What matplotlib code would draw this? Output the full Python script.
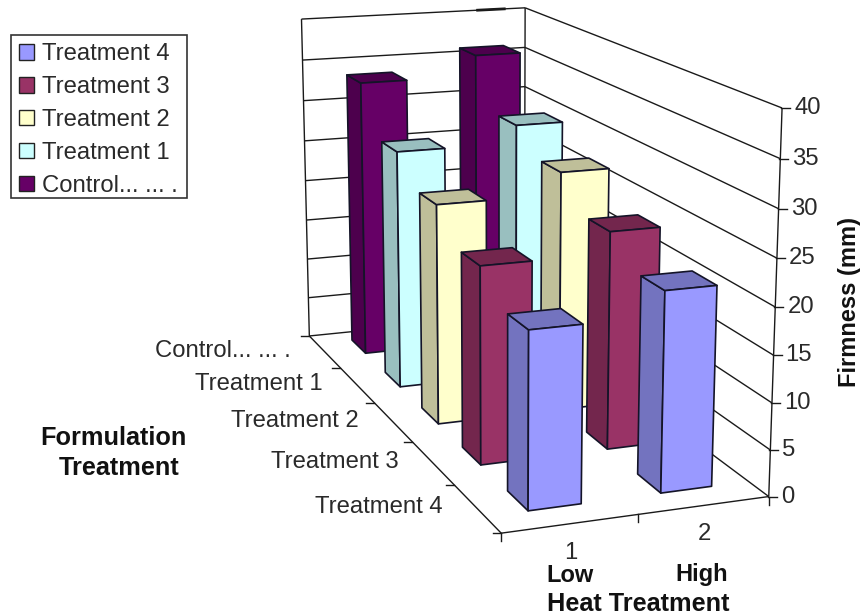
import numpy as np
import matplotlib
matplotlib.use("Agg")
import matplotlib.pyplot as plt
from matplotlib.patches import Patch, Rectangle

plt.rcParams["font.family"] = ["Liberation Sans", "DejaVu Sans"]

# --- Data
treatments = ["Control... ... .", "Treatment 1", "Treatment 2", "Treatment 3", "Treatment 4"]
heat_ticks = ["1", "2"]
firmness_low = [33.5, 28.0, 25.0, 21.7, 18.8]
firmness_high = [36.0, 30.1, 27.5, 24.1, 21.4]
firmness_ticks = [0, 5, 10, 15, 20, 25, 30, 35, 40]

front_colors = ["#660066", "#CCFFFF", "#FFFFCC", "#993366", "#9999FF"]
side_colors = ["#4D004D", "#99BFBF", "#BFBF99", "#73264D", "#7373BF"]

# --- Box corners (heat, depth, firmness) and where they land in the figure
box_corners = [
    (0, 5, 0), (0, 5, 40), (2, 5, 40), (0, 0, 0), (2, 0, 0), (2, 0, 40),
    (1, 0, 0), (0, 4, 0), (0, 3, 0), (0, 2, 0), (0, 1, 0), (2, 0, 20),
    (0, 5, 20),
]
corner_pixels = [
    (309, 336), (301, 20), (526, 8), (501, 533), (768, 497), (782, 107),
    (638, 515), (340, 367), (375, 403), (413, 442), (455, 485), (775, 307),
    (305, 180),
]

BAR_W = 0.395
BAR_D = 0.42
BAR_DX = 0.012
BAR_DY = 0.04
FONT = 17.2
BOLD = 17
BOLD_WIDE = 18.2
LINE = "#1a1a1a"
TEXT = "#2a2a2a"


def fit_camera(world, pixels):
    rows = []
    for (x, y, z), (u, v) in zip(world, pixels):
        p = [x, y, z / 10, 1]
        u, v = u / 100, v / 100
        rows.append(p + [0, 0, 0, 0] + [-u * c for c in p])
        rows.append([0, 0, 0, 0] + p + [-v * c for c in p])
    _, _, vt = np.linalg.svd(np.array(rows, dtype=float))
    return vt[-1].reshape(3, 4)


camera = fit_camera(box_corners, corner_pixels)


def project(x, y, z):
    u, v, w = camera @ np.array([x, y, z / 10, 1.0])
    return u / w * 100, v / w * 100


def line3d(ax, a, b, lw=1.0, color=LINE, zorder=1):
    pa, pb = project(*a), project(*b)
    ax.plot([pa[0], pb[0]], [pa[1], pb[1]], color=color, lw=lw, zorder=zorder,
            solid_capstyle="butt")


def draw_bar(ax, x_mid, row, height, zorder):
    x0, x1 = x_mid + BAR_DX - BAR_W / 2, x_mid + BAR_DX + BAR_W / 2
    # row 0 sits at the back of the floor
    y_mid = 4.5 - row
    y0, y1 = y_mid + BAR_DY - BAR_D / 2, y_mid + BAR_DY + BAR_D / 2
    faces = [
        ([(x0, y1, 0), (x0, y0, 0), (x0, y0, height), (x0, y1, height)], side_colors[row]),
        ([(x0, y0, height), (x1, y0, height), (x1, y1, height), (x0, y1, height)], side_colors[row]),
        ([(x0, y0, 0), (x1, y0, 0), (x1, y0, height), (x0, y0, height)], front_colors[row]),
    ]
    for corners, color in faces:
        pts = np.array([project(*c) for c in corners])
        ax.fill(pts[:, 0], pts[:, 1], facecolor=color, edgecolor="#141428",
                lw=1.2, joinstyle="round", zorder=zorder)


fig = plt.figure(figsize=(8.63, 6.15), dpi=100)
ax = fig.add_axes([0, 0, 1, 1])
ax.set_xlim(0, 863)
ax.set_ylim(615, 0)
ax.axis("off")

# --- Walls and gridlines
for tick in firmness_ticks:
    line3d(ax, (0, 5, tick), (2, 5, tick))
    line3d(ax, (2, 5, tick), (2, 0, tick))
line3d(ax, (0, 5, 0), (0, 5, 40))
line3d(ax, (2, 5, 0), (2, 5, 40))
line3d(ax, (1.55, 5, 40), (1.82, 5, 40), lw=2.0)

# --- Floor edges and axes
line3d(ax, (0, 0, 0), (0, 5, 0), zorder=30)
line3d(ax, (0, 0, 0), (2, 0, 0), zorder=30)
line3d(ax, (2, 0, 0), (2, 0, 40), zorder=30)

for tick in firmness_ticks:
    u, v = project(2, 0, tick)
    ax.plot([u - 1, u + 8], [v, v], color=LINE, lw=1.0, zorder=30)
    ax.text(u + 12, v, str(tick), fontsize=FONT, color=TEXT, ha="left", va="center")

for pos in range(6):
    u, v = project(0, pos, 0)
    ax.plot([u - 8, u], [v, v], color=LINE, lw=1.0, zorder=30)

for pos in range(3):
    u, v = project(pos, 0, 0)
    ax.plot([u, u], [v, v + 8], color=LINE, lw=1.0, zorder=30)

for row, name in enumerate(treatments):
    u, v = project(0, 4.5 - row, 0)
    ax.text(u - 34, v - 1, name, fontsize=FONT, color=TEXT, ha="right", va="center")

for pos, name in enumerate(heat_ticks):
    u, v = project(pos + 0.5, 0, 0)
    ax.text(u, v + 29, name, fontsize=FONT, color=TEXT, ha="center", va="center")

# --- Bars, back row first
for row in range(len(treatments)):
    draw_bar(ax, 1.5, row, firmness_high[row], zorder=10 + 2 * row)
    draw_bar(ax, 0.5, row, firmness_low[row], zorder=11 + 2 * row)

# --- Axis titles
bold = dict(fontweight="bold", color="#111111", va="center")
ax.text(113, 438, "Formulation", ha="center", fontsize=BOLD_WIDE, **bold)
ax.text(119, 468, "Treatment", ha="center", fontsize=BOLD_WIDE, **bold)
ax.text(570, 575, "Low", ha="center", fontsize=BOLD, **bold)
ax.text(702, 575, "High", ha="center", fontsize=BOLD, **bold)
ax.text(638, 604, "Heat Treatment", ha="center", fontsize=BOLD_WIDE, **bold)
ax.text(849, 302, "Firmness (mm)", ha="center", rotation=90, rotation_mode="anchor",
        fontsize=BOLD, **bold)

# --- Legend, last treatment on top
ax.add_patch(Rectangle((11, 35), 176, 163, facecolor="white", edgecolor="#333333",
                       lw=1.2, zorder=40))
handles = [
    Patch(facecolor=front_colors[row], edgecolor="#222222", lw=1.0, label=treatments[row])
    for row in reversed(range(len(treatments)))
]
legend = ax.legend(
    handles=handles,
    loc="upper left",
    bbox_to_anchor=(11, 35),
    bbox_transform=ax.transData,
    borderaxespad=0,
    fontsize=FONT,
    handlelength=0.62,
    handleheight=0.62,
    handletextpad=0.34,
    labelspacing=0.455,
    borderpad=0.35,
    frameon=False,
    labelcolor=TEXT,
)
legend.set_zorder(41)

fig.savefig("out.png", dpi=100)
plt.close(fig)
